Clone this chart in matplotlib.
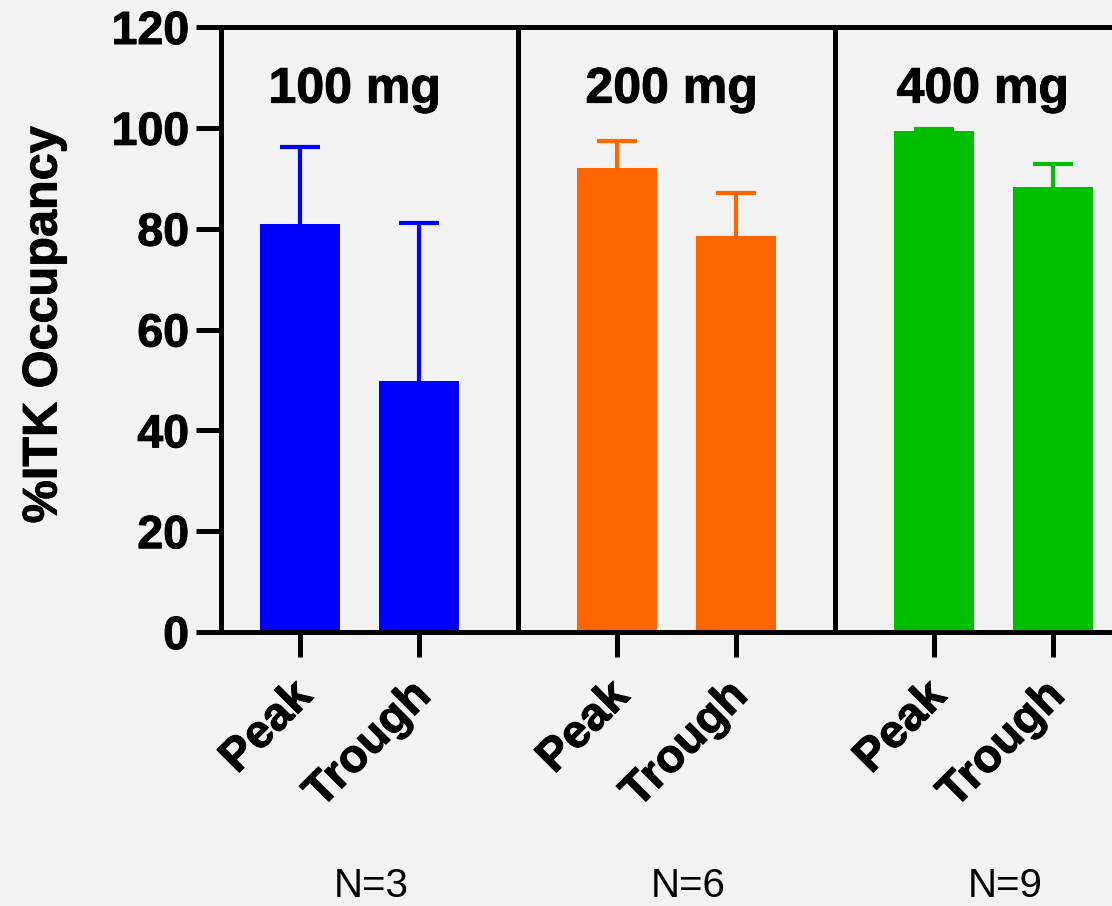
import numpy as np
import matplotlib.pyplot as plt
from matplotlib import transforms
import matplotlib.patheffects as pe

plt.rcParams['font.family'] = ['Liberation Sans', 'DejaVu Sans']

# data
doses = ['100 mg', '200 mg', '400 mg']
timepoints = ['Peak', 'Trough']
n_labels = ['N=3', 'N=6', 'N=9']
occupancy = [81.0, 49.8, 92.0, 78.6, 99.3, 88.2]
err_upper = [15.1, 31.3, 5.3, 8.4, 0.4, 4.7]
dose_colors = ['#0000FF', '#FF6600', '#00BF00']

# layout
group_step = 2.675
bar_w = 0.675
lw = 3.6
title_dx = [-0.04, -0.04, -0.09]
heavy = [pe.withStroke(linewidth=0.7, foreground='black')]

fig = plt.figure(figsize=(11.12, 9.06), dpi=100)
fig.patch.set_facecolor('#f2f2f2')
ax = fig.add_axes([221 / 1112, 1 - 632 / 906, 1 - 221 / 1112, (632 - 27) / 906])
ax.set_facecolor('#f2f2f2')

pos = []
cols = []
for i in range(len(doses)):
    for j in range(len(timepoints)):
        pos.append(i * group_step + j)
        cols.append(dose_colors[i])
pos = np.array(pos)

ax.bar(pos, occupancy, width=bar_w, color=cols, linewidth=0, zorder=2)
for x, v, e, c in zip(pos, occupancy, err_upper, cols):
    _, caps, _ = ax.errorbar(x, v, yerr=[[0], [e]], fmt='none', ecolor=c, elinewidth=3,
                             capsize=14.4, capthick=3, zorder=3)
    # only the upper whisker is shown
    for cap in caps:
        if np.allclose(cap.get_ydata(), v):
            cap.set_visible(False)

# separators between dose groups
for i in range(1, len(doses)):
    ax.axvline((i - 1) * group_step + 1 + (group_step - 1) / 2, color='black', lw=lw, zorder=4)

# group titles
for i, d in enumerate(doses):
    ax.text(i * group_step + 0.5 + title_dx[i], 105, d, ha='center', va='baseline',
            fontsize=36, fontweight='bold', path_effects=heavy)

ax.set_ylim(0, 120)
ax.set_xlim(-0.667, 6.852)
ax.set_yticks(np.arange(0, 121, 20))
ax.set_xticks(pos)
ax.set_xticklabels(timepoints * len(doses), rotation=45, ha='right',
                   rotation_mode='anchor', fontsize=33.5, fontweight='bold')
for lab in ax.get_yticklabels():
    lab.set_fontsize(33.5)
    lab.set_fontweight('bold')
    lab.set_path_effects(heavy)

ax.tick_params(axis='y', length=18, width=lw, pad=5)
ax.tick_params(axis='x', length=18, width=lw, pad=12)
offset = transforms.ScaledTranslation(-10 / 100, 0, fig.dpi_scale_trans)
for lab in ax.get_xticklabels():
    lab.set_transform(lab.get_transform() + offset)
    lab.set_path_effects(heavy)

for s in ['left', 'bottom', 'top']:
    ax.spines[s].set_linewidth(lw)
ax.spines['right'].set_visible(False)

fig.text(44 / 1112, 1 - 325 / 906, '%ITK Occupancy', rotation=90, ha='center',
         va='center', fontsize=35, fontweight='bold', path_effects=heavy)

blend = transforms.blended_transform_factory(ax.transData, fig.transFigure)
for i, n in enumerate(n_labels):
    ax.text(i * group_step + 0.6, 1 - 886 / 906, n, transform=blend,
            ha='center', va='center', fontsize=29)

fig.savefig('out.png', dpi=100, facecolor=fig.get_facecolor())
